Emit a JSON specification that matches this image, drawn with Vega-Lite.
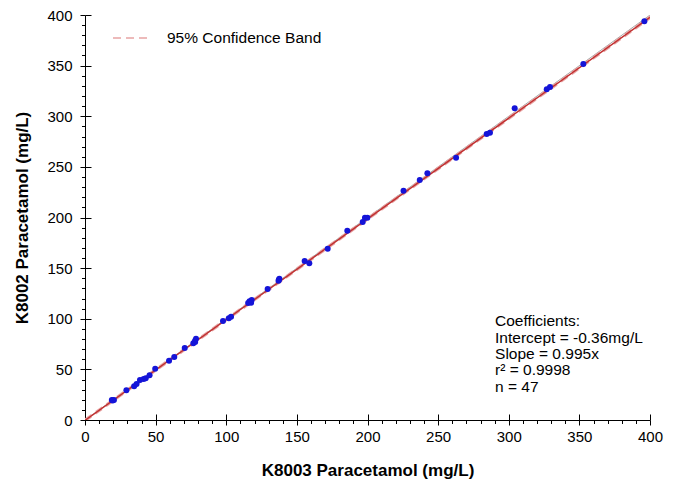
{
  "$schema": "https://vega.github.io/schema/vega-lite/v6.json",
  "width": 565,
  "height": 405,
  "autosize": {"type": "none"},
  "padding": {"left": 85, "top": 15, "right": 23, "bottom": 68},
  "background": "white",
  "config": {
    "view": {"stroke": null},
    "font": "Liberation Sans",
    "axis": {"grid": false, "domainColor": "black", "tickColor": "black", "labelColor": "black", "titleColor": "black", "labelFont": "Liberation Sans", "titleFont": "Liberation Sans"}
  },
  "datasets": {
    "identity": [{"x": 0, "y": 0}, {"x": 400, "y": 400}],
    "regression": [{"x": 0, "y": -0.36}, {"x": 400, "y": 397.6}],
    "band": [
      {"series": "95% Confidence Band", "bound": "upper", "x": 0, "y": 0.8},
      {"series": "95% Confidence Band", "bound": "upper", "x": 400, "y": 398.8},
      {"series": "95% Confidence Band", "bound": "lower", "x": 0, "y": -1.5},
      {"series": "95% Confidence Band", "bound": "lower", "x": 400, "y": 396.4}
    ],
    "points": [
      {"x": 19.0, "y": 19.8}, {"x": 20.5, "y": 19.8}, {"x": 19.6, "y": 19.3}, {"x": 29.3, "y": 29.3},
      {"x": 34.8, "y": 33.4}, {"x": 36.5, "y": 35.6}, {"x": 38.9, "y": 39.5}, {"x": 41.5, "y": 40.5},
      {"x": 43.0, "y": 41.2}, {"x": 45.7, "y": 44.1}, {"x": 49.7, "y": 50.7}, {"x": 59.5, "y": 58.6},
      {"x": 63.2, "y": 62.2}, {"x": 70.6, "y": 71.1}, {"x": 76.7, "y": 75.7}, {"x": 77.9, "y": 78.3},
      {"x": 78.6, "y": 80.3}, {"x": 78.0, "y": 77.0}, {"x": 97.7, "y": 97.8}, {"x": 101.8, "y": 100.5},
      {"x": 103.4, "y": 102.0}, {"x": 115.5, "y": 115.5}, {"x": 116.5, "y": 117.2}, {"x": 118.0, "y": 118.5},
      {"x": 117.6, "y": 115.8}, {"x": 129.3, "y": 129.4}, {"x": 137.0, "y": 137.6}, {"x": 137.6, "y": 139.6},
      {"x": 137.3, "y": 138.5}, {"x": 155.5, "y": 157.0}, {"x": 158.8, "y": 154.8}, {"x": 171.8, "y": 169.2},
      {"x": 185.7, "y": 187.0}, {"x": 196.6, "y": 195.6}, {"x": 198.2, "y": 199.8}, {"x": 199.9, "y": 199.8},
      {"x": 225.5, "y": 226.5}, {"x": 237.0, "y": 237.0}, {"x": 242.4, "y": 243.6}, {"x": 262.7, "y": 259.0},
      {"x": 284.4, "y": 282.5}, {"x": 286.7, "y": 283.8}, {"x": 304.2, "y": 307.9}, {"x": 326.9, "y": 326.6},
      {"x": 329.2, "y": 328.9}, {"x": 352.8, "y": 351.6}, {"x": 396.0, "y": 393.8}
    ],
    "coef": [
      {"label": "Coefficients:", "x": 290.3, "y": 92.8},
      {"label": "Intercept = -0.36mg/L", "x": 290.3, "y": 76.5},
      {"label": "Slope = 0.995x", "x": 290.3, "y": 60.2},
      {"label": "r² = 0.9998", "x": 290.3, "y": 44.0},
      {"label": "n = 47", "x": 290.3, "y": 27.7}
    ]
  },
  "layer": [
    {
      "data": {"name": "identity"},
      "mark": {"type": "line", "color": "#a8a8a8", "strokeWidth": 1, "clip": true},
      "encoding": {
        "x": {"field": "x", "type": "quantitative", "scale": {"domain": [0, 400], "nice": false},
          "axis": {"orient": "bottom", "values": [0, 50, 100, 150, 200, 250, 300, 350, 400], "tickSize": 5, "labelPadding": 4, "labelFontSize": 15, "labelFlush": false, "title": "K8003 Paracetamol (mg/L)", "titleFontSize": 17, "titleFontWeight": "bold", "titlePadding": 18}},
        "y": {"field": "y", "type": "quantitative", "scale": {"domain": [0, 400], "nice": false},
          "axis": {"orient": "left", "values": [0, 50, 100, 150, 200, 250, 300, 350, 400], "tickSize": 5, "labelPadding": 8, "labelFontSize": 15, "labelFlush": false, "title": "K8002 Paracetamol (mg/L)", "titleFontSize": 17, "titleFontWeight": "bold", "titleX": -63, "titleBaseline": "middle"}}
      }
    },
    {
      "data": {"name": "band"},
      "mark": {"type": "line", "color": "#e8a4a4", "strokeWidth": 1.5, "clip": true},
      "encoding": {
        "x": {"field": "x", "type": "quantitative", "scale": {"domain": [0, 400], "nice": false},
          "axis": {"orient": "bottom", "values": [0, 50, 100, 150, 200, 250, 300, 350, 400], "tickSize": 6, "offset": -6, "labels": false, "domain": false, "title": null}},
        "y": {"field": "y", "type": "quantitative", "scale": {"domain": [0, 400], "nice": false},
          "axis": {"orient": "left", "values": [0, 50, 100, 150, 200, 250, 300, 350, 400], "tickSize": 6, "offset": -6, "labels": false, "domain": false, "title": null}},
        "detail": {"field": "bound"},
        "strokeDash": {"field": "series", "type": "nominal", "scale": {"domain": ["95% Confidence Band"], "range": [[8, 5]]},
          "legend": {"title": null, "orient": "none", "legendX": 27, "legendY": 3, "symbolType": "stroke", "symbolSize": 1444, "symbolStrokeColor": "#e8a4a4", "symbolStrokeWidth": 1.5, "labelFontSize": 15.5, "labelColor": "black", "labelOffset": 15, "padding": 0}}
      }
    },
    {
      "data": {"name": "regression"},
      "mark": {"type": "line", "color": "#c03030", "strokeWidth": 1.5, "clip": true},
      "encoding": {
        "x": {"field": "x", "type": "quantitative", "scale": {"domain": [0, 400], "nice": false},
          "axis": {"orient": "bottom", "values": [10, 20, 30, 40, 60, 70, 80, 90, 110, 120, 130, 140, 160, 170, 180, 190, 210, 220, 230, 240, 260, 270, 280, 290, 310, 320, 330, 340, 360, 370, 380, 390], "tickSize": 3.5, "labels": false, "domain": false, "title": null}},
        "y": {"field": "y", "type": "quantitative", "scale": {"domain": [0, 400], "nice": false},
          "axis": {"orient": "left", "values": [10, 20, 30, 40, 60, 70, 80, 90, 110, 120, 130, 140, 160, 170, 180, 190, 210, 220, 230, 240, 260, 270, 280, 290, 310, 320, 330, 340, 360, 370, 380, 390], "tickSize": 3.5, "labels": false, "domain": false, "title": null}}
      }
    },
    {
      "data": {"name": "points"},
      "mark": {"type": "point", "filled": true, "shape": "circle", "color": "#1414d8", "opacity": 1, "size": 36},
      "encoding": {
        "x": {"field": "x", "type": "quantitative", "scale": {"domain": [0, 400], "nice": false}, "axis": null},
        "y": {"field": "y", "type": "quantitative", "scale": {"domain": [0, 400], "nice": false}, "axis": null}
      }
    },
    {
      "data": {"name": "coef"},
      "mark": {"type": "text", "align": "left", "baseline": "alphabetic", "fontSize": 15.5, "font": "Liberation Sans", "color": "black"},
      "encoding": {
        "x": {"field": "x", "type": "quantitative", "scale": {"domain": [0, 400], "nice": false}, "axis": null},
        "y": {"field": "y", "type": "quantitative", "scale": {"domain": [0, 400], "nice": false}, "axis": null},
        "text": {"field": "label"}
      }
    }
  ],
  "resolve": {"axis": {"x": "independent", "y": "independent"}}
}
